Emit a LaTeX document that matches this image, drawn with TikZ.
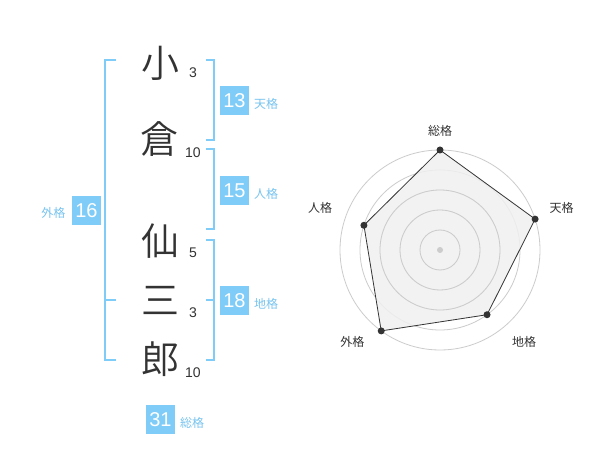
\documentclass[tikz,border=0pt]{standalone}
\usepackage{fontspec}
\usetikzlibrary{calc}
\setmainfont{Liberation Sans}
\newfontfamily\cjk{Noto Sans CJK JP}
\newfontfamily\cjkdemi{Noto Sans CJK JP DemiLight}
\definecolor{bl}{RGB}{128,204,248}
\definecolor{bltxt}{RGB}{120,196,240}
\definecolor{ink}{RGB}{51,51,51}
\definecolor{ringc}{RGB}{204,204,204}
\definecolor{areac}{RGB}{240,240,240}
\begin{document}
\begin{tikzpicture}[x=0.75pt,y=-0.75pt,
  kanji/.style={font=\cjkdemi\fontsize{28.5}{28.5}\selectfont, text=ink, inner sep=0pt},
  strokenum/.style={font=\fontsize{10.5}{10.5}\selectfont, text=ink, inner sep=0pt},
  numbox/.style={fill=bl, text=white, minimum size=21.75pt, inner sep=0pt, font=\fontsize{15}{15}\selectfont},
  caption/.style={text=bltxt, font=\cjk\fontsize{9}{9}\selectfont, inner sep=0pt},
  bracket/.style={draw=bl, line width=1.5pt},
  ring/.style={draw=ringc, line width=0.6pt},
  axislabel/.style={font=\cjk\fontsize{9}{9}\selectfont, text=ink, inner sep=0pt},
  dot/.style={circle, fill=ink, inner sep=0pt, minimum size=5.25pt}]
\useasboundingbox (0,0) rectangle (600,470);
\fill[white] (0,0) rectangle (600,470);
% kanji
\node[kanji] (k1) at (160,63) {小};
\node[kanji] (k2) at (159,139) {倉};
\node[kanji] (k3) at (160,241) {仙};
\node[kanji] (k4) at (160,300) {三};
\node[kanji] (k5) at (160,359) {郎};
% stroke counts
\node[strokenum] (s1) at (193,72.5) {3};
\node[strokenum] (s2) at (193,153) {10};
\node[strokenum] (s3) at (193,253) {5};
\node[strokenum] (s4) at (193,313) {3};
\node[strokenum] (s5) at (193,372.5) {10};
% brackets
\draw[bracket] (206,60) -- (214,60) -- (214,140) -- (206,140);
\draw[bracket] (206,149.5) -- (214,149.5) -- (214,229.5) -- (206,229.5);
\draw[bracket] (206,240) -- (214,240) -- (214,360) -- (206,360);
\draw[bracket] (206,300) -- (214,300);
\draw[bracket] (116,60) -- (105,60) -- (105,360) -- (116,360);
\draw[bracket] (105,300) -- (116,300);
% boxes
\node[numbox] (b13) at (234.5,100.3) {13};
\node[caption] (c13) at (266,104) {天格};
\node[numbox] (b15) at (234.5,190.3) {15};
\node[caption] (c15) at (266,194) {人格};
\node[numbox] (b18) at (234.5,300.3) {18};
\node[caption] (c18) at (266,304) {地格};
\node[numbox] (b16) at (86.5,210.3) {16};
\node[caption] (c16) at (53.3,213.3) {外格};
\node[numbox] (b31) at (160.5,419.2) {31};
\node[caption] (c31) at (192,422.7) {総格};
% radar
\coordinate (c) at (440,250);
\foreach \r in {20,40,60,80,100} \draw[ring] (c) circle[radius=\r];
\coordinate (p1) at ($(c)+(-90:100)$);
\coordinate (p2) at ($(c)+(-18:100)$);
\coordinate (p3) at ($(c)+(54:80)$);
\coordinate (p4) at ($(c)+(126:100)$);
\coordinate (p5) at ($(c)+(198:80)$);
\fill[areac, fill opacity=0.85] (p1) -- (p2) -- (p3) -- (p4) -- (p5) -- cycle;
\draw[ink, line width=0.6pt] (p1) -- (p2) -- (p3) -- (p4) -- (p5) -- cycle;
\foreach \r in {20,40,60} \draw[ring] (c) circle[radius=\r];
\fill[ringc] (c) circle[radius=3];
\foreach \p in {p1,p2,p3,p4,p5} \node[dot] at (\p) {};
\node[axislabel] (l1) at (440,130.7) {総格};
\node[axislabel] (l2) at (561.7,208.3) {天格};
\node[axislabel] (l3) at (524,341.7) {地格};
\node[axislabel] (l4) at (352.3,341.7) {外格};
\node[axislabel] (l5) at (320,208.3) {人格};
\end{tikzpicture}
\end{document}
